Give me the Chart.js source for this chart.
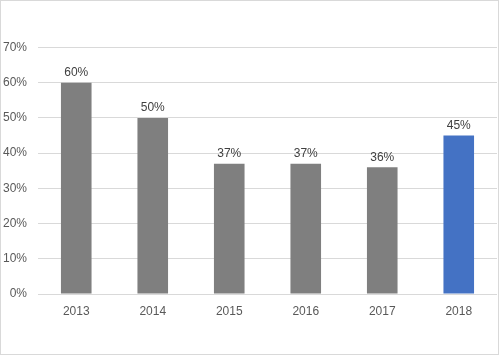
<!DOCTYPE html>
<html><head><meta charset="utf-8">
<script src="https://cdn.jsdelivr.net/npm/chart.js@4"></script>
<style>
html,body{margin:0;padding:0;background:#fff;}
#wrap{position:relative;width:500px;height:356px;}
#frame{position:absolute;left:0;top:0;width:497px;height:353px;border:1px solid #d9d9d9;pointer-events:none;}
canvas{display:block;}
</style></head>
<body>
<div id="wrap"><canvas id="c" width="500" height="356"></canvas><div id="frame"></div></div>
<script>
const categories = ["2013","2014","2015","2016","2017","2018"];
const values = [60, 50, 37, 37, 36, 45];
const barColors = ["#7f7f7f","#7f7f7f","#7f7f7f","#7f7f7f","#7f7f7f","#4472c4"];
const yTicks = [0,10,20,30,40,50,60,70];

const labelPlugin = {
  id: 'valueLabels',
  afterDatasetsDraw(chart) {
    const ctx = chart.ctx;
    const meta = chart.getDatasetMeta(0);
    ctx.save();
    ctx.font = '12px "Liberation Sans", Arial, sans-serif';
    ctx.fillStyle = '#404040';
    ctx.textAlign = 'center';
    ctx.textBaseline = 'bottom';
    meta.data.forEach((bar, i) => {
      ctx.fillText(values[i] + '%', bar.x, bar.y - 4);
    });
    ctx.restore();
  }
};

new Chart(document.getElementById('c'), {
  type: 'bar',
  data: {
    labels: categories,
    datasets: [{
      data: values,
      backgroundColor: barColors,
      borderWidth: 0,
      categoryPercentage: 1,
      barPercentage: 0.40
    }]
  },
  options: {
    responsive: false,
    animation: false,
    devicePixelRatio: 1,
    layout: { padding: { left: 1, top: 47.5, right: 3, bottom: 0 } },
    plugins: { legend: { display: false }, tooltip: { enabled: false } },
    scales: {
      x: {
        grid: { display: false, drawTicks: false },
        border: { display: false },
        ticks: { color: '#595959', font: { family: '"Liberation Sans", Arial, sans-serif', size: 12 }, padding: 10 },
        afterFit(scale) { scale.height = 62; }
      },
      y: {
        min: 0, max: 70,
        afterBuildTicks(scale) { scale.ticks = yTicks.map(v => ({ value: v })); },
        grid: { color: '#d9d9d9', drawTicks: false, lineWidth: 1 },
        border: { display: false },
        ticks: {
          color: '#595959',
          font: { family: '"Liberation Sans", Arial, sans-serif', size: 12 },
          padding: 11,
          callback: v => v + '%'
        },
        afterFit(scale) { scale.width = 37; }
      }
    }
  },
  plugins: [labelPlugin]
});
</script>
</body></html>
